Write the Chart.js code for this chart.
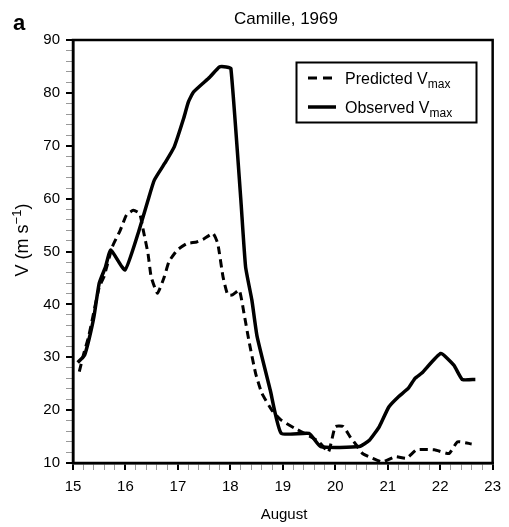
<!DOCTYPE html>
<html lang="en">
<head>
    <meta charset="UTF-8">
    <title>Camille, 1969</title>
    <script src="https://cdn.jsdelivr.net/npm/chart.js"></script>
    <style>
        body {
            margin: 0;
            background: #fff;
        }
        #wrap {
            width: 509px;
            height: 527px;
        }
    </style>
</head>
<body>
    <div id="wrap">
        <canvas id="vmaxChart" width="509" height="527"></canvas>
    </div>

    <script>
        // values (day of August, m/s)
        const obsDay = [15.09, 15.22, 15.31, 15.40, 15.50, 15.62, 15.72, 15.99, 16.24, 16.43, 16.55, 16.75, 16.93,
            17.11, 17.20, 17.30, 17.61, 17.79, 17.92, 18.01, 18.20, 18.29, 18.41, 18.51, 18.76, 18.97, 19.50,
            19.72, 20.46, 20.65, 20.84, 21.02, 21.20, 21.39, 21.52, 21.65, 22.01, 22.26, 22.42, 22.67];
        const obsV = [29.0, 30.4, 33.6, 37.7, 44.0, 47.1, 50.3, 46.5, 53.4, 59.7, 63.5, 66.7, 69.8,
            75.2, 78.3, 80.2, 83.0, 84.9, 84.9, 84.6, 59.7, 47.1, 40.8, 33.9, 23.8, 15.6, 15.6,
            13.1, 13.1, 14.3, 16.9, 20.6, 22.5, 24.1, 26.0, 27.0, 30.7, 28.5, 25.8, 25.8];

        const predDay = [15.12, 15.20, 15.30, 15.50, 15.59, 15.75, 15.90, 16.02, 16.15, 16.27, 16.34, 16.43, 16.49,
            16.61, 16.74, 16.83, 16.99, 17.17, 17.36, 17.48, 17.67, 17.76, 17.86, 17.95, 18.04, 18.17, 18.26,
            18.35, 18.48, 18.60, 18.79, 18.97, 19.22, 19.47, 19.69, 19.87, 20.00, 20.15, 20.28, 20.40, 20.52,
            20.71, 20.90, 21.15, 21.36, 21.55, 21.89, 22.17, 22.33, 22.60];
        const predV = [27.3, 30.5, 34.0, 43.3, 45.2, 50.9, 54.0, 56.9, 57.8, 57.2, 54.0, 49.6, 45.2,
            42.1, 45.2, 48.1, 50.3, 51.5, 51.8, 52.3, 53.4, 51.5, 45.2, 41.8, 41.8, 42.7, 38.3,
            33.3, 27.0, 23.2, 20.0, 18.1, 16.6, 15.3, 14.0, 12.1, 16.9, 16.9, 15.0, 13.4, 11.8,
            10.9, 10.2, 11.2, 10.9, 12.5, 12.5, 11.8, 14.0, 13.6];

        const xMin = 15, xMax = 23, xStep = 0.2;
        const yMin = 10, yMax = 90, yStep = 2;

        const FONT = 'Arial, "Liberation Sans", sans-serif';

        function toPoints(xs, ys) {
            return xs.map((x, i) => ({ x: x, y: ys[i] }));
        }

        function isWhole(v, every) {
            const r = v / every;
            return Math.abs(r - Math.round(r)) < 1e-6;
        }

        // title, panel letter, axis titles and the boxed legend
        const extras = {
            id: 'extras',
            afterDraw(chart) {
                const c = chart.ctx;
                const a = chart.chartArea;
                c.save();

                // frame round the plot
                c.strokeStyle = '#000';
                c.lineWidth = 2.5;
                c.strokeRect(a.left, a.top, a.right - a.left, a.bottom - a.top);

                c.fillStyle = '#000';
                c.textBaseline = 'alphabetic';

                c.font = 'bold 22px ' + FONT;
                c.textAlign = 'left';
                c.fillText('a', 13, 30);

                c.font = '17px ' + FONT;
                c.textAlign = 'center';
                c.fillText('Camille, 1969', 286, 24);

                c.font = '15px ' + FONT;
                c.fillText('August', 284, 519);

                // y title with superscript
                c.save();
                c.translate(28, 240);
                c.rotate(-Math.PI / 2);
                const p1 = 'V (m s', sup = '\u22121', p2 = ')';
                c.font = '18px ' + FONT;
                const w1 = c.measureText(p1).width;
                const w3 = c.measureText(p2).width;
                c.font = '13px ' + FONT;
                const w2 = c.measureText(sup).width;
                let x = -(w1 + w2 + w3) / 2;
                c.textAlign = 'left';
                c.font = '18px ' + FONT;
                c.fillText(p1, x, 0);
                x += w1;
                c.font = '13px ' + FONT;
                c.fillText(sup, x, -7);
                x += w2;
                c.font = '18px ' + FONT;
                c.fillText(p2, x, 0);
                c.restore();

                // legend
                c.lineWidth = 2;
                c.strokeRect(296.5, 62.5, 180, 60);

                c.lineWidth = 3;
                c.setLineDash([9, 6]);
                c.beginPath();
                c.moveTo(308, 78);
                c.lineTo(335, 78);
                c.stroke();
                c.setLineDash([]);
                c.lineWidth = 3.5;
                c.beginPath();
                c.moveTo(308, 107);
                c.lineTo(336, 107);
                c.stroke();

                function label(main, y) {
                    c.textAlign = 'left';
                    c.font = '16px ' + FONT;
                    c.fillText(main, 345, y);
                    const w = c.measureText(main).width;
                    c.font = '12px ' + FONT;
                    c.fillText('max', 345 + w, y + 4);
                }
                label('Predicted V', 84);
                label('Observed V', 113);

                c.restore();
            }
        };

        const ctx = document.getElementById('vmaxChart').getContext('2d');

        new Chart(ctx, {
            type: 'line',
            data: {
                datasets: [
                    {
                        label: 'Observed Vmax',
                        data: toPoints(obsDay, obsV),
                        borderColor: '#000',
                        borderWidth: 3.5,
                        pointRadius: 0,
                        tension: 0.15,
                        borderJoinStyle: 'round',
                        fill: false
                    },
                    {
                        label: 'Predicted Vmax',
                        data: toPoints(predDay, predV),
                        borderColor: '#000',
                        borderWidth: 3,
                        borderDash: [8, 5],
                        pointRadius: 0,
                        tension: 0.15,
                        fill: false
                    }
                ]
            },
            options: {
                responsive: false,
                animation: false,
                layout: {
                    padding: { top: 40, right: 6, left: 0, bottom: 0 }
                },
                plugins: {
                    legend: { display: false },
                    title: { display: false },
                    tooltip: { enabled: false }
                },
                scales: {
                    x: {
                        type: 'linear',
                        min: xMin,
                        max: xMax,
                        afterFit(s) { s.height = 64; },
                        border: { display: true, color: '#000', width: 2.5 },
                        grid: {
                            drawOnChartArea: false,
                            drawTicks: true,
                            tickLength: 7,
                            color: ctx => isWhole(ctx.tick.value, 1) ? '#000' : '#999',
                            lineWidth: ctx => isWhole(ctx.tick.value, 1) ? 2 : 1
                        },
                        ticks: {
                            stepSize: xStep,
                            autoSkip: false,
                            maxRotation: 0,
                            padding: 8,
                            color: '#000',
                            font: { family: FONT, size: 15 },
                            callback: v => isWhole(v, 1) ? Math.round(v) : ''
                        }
                    },
                    y: {
                        min: yMin,
                        max: yMax,
                        afterFit(s) { s.width = 73; },
                        border: { display: true, color: '#000', width: 2.5 },
                        grid: {
                            drawOnChartArea: false,
                            drawTicks: true,
                            tickLength: 7,
                            color: ctx => isWhole(ctx.tick.value, 10) ? '#000' : '#999',
                            lineWidth: ctx => isWhole(ctx.tick.value, 10) ? 2 : 1
                        },
                        ticks: {
                            stepSize: yStep,
                            autoSkip: false,
                            padding: 6,
                            color: '#000',
                            font: { family: FONT, size: 15 },
                            callback: v => isWhole(v, 10) ? Math.round(v) : ''
                        }
                    }
                }
            },
            plugins: [extras]
        });
    </script>
</body>
</html>
